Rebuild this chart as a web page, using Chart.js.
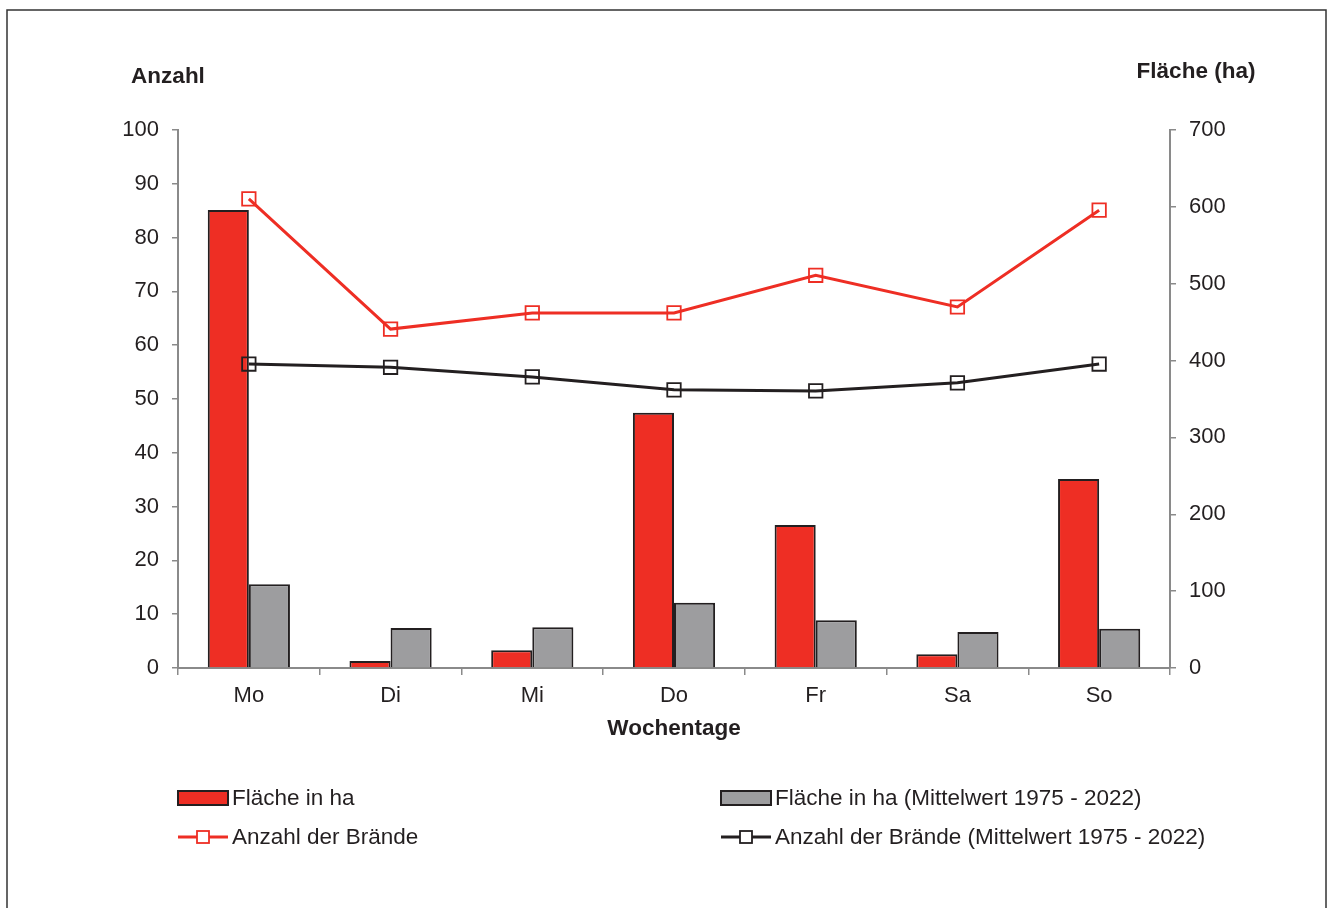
<!DOCTYPE html>
<html>
<head>
<meta charset="utf-8">
<script src="https://cdn.jsdelivr.net/npm/chart.js@4/dist/chart.umd.min.js"></script>
<style>
html,body{margin:0;padding:0;background:#fff;}
canvas{display:block;}
</style>
</head>
<body>
<canvas id="c" width="1328" height="908"></canvas>
<script>
const days = ['Mo', 'Di', 'Mi', 'Do', 'Fr', 'Sa', 'So'];
const areaHa = [596, 9, 23, 332, 186, 18, 246];
const areaMeanHa = [109, 52, 53, 85, 62, 47, 51];
const fireCount = [87.2, 63, 66, 66, 73, 67.1, 85.1];
const fireCountMean = [56.5, 55.9, 54.1, 51.7, 51.5, 53.0, 56.5];
const leftTitle = 'Anzahl';
const rightTitle = 'Fläche (ha)';
const xTitle = 'Wochentage';
const labelArea = 'Fläche in ha';
const labelAreaMean = 'Fläche in ha (Mittelwert 1975 - 2022)';
const labelCount = 'Anzahl der Brände';
const labelCountMean = 'Anzahl der Brände (Mittelwert 1975 - 2022)';

const RED = '#ee2e24';
const GRAY = '#9d9d9f';
const DARK = '#231f20';
const AXIS = '#8a8a8a';
const FONT = "'Liberation Sans', Arial, sans-serif";

const decor = {
  id: 'decor',
  beforeDraw(chart) {
    const ctx = chart.ctx;
    ctx.save();
    ctx.fillStyle = '#fff';
    ctx.fillRect(0, 0, chart.width, chart.height);
    ctx.strokeStyle = '#333';
    ctx.lineWidth = 1.5;
    ctx.strokeRect(7, 10, 1319, 1000);
    ctx.restore();
  },
  afterDraw(chart) {
    const ctx = chart.ctx;
    ctx.save();
    ctx.fillStyle = DARK;
    ctx.font = 'bold 22.5px ' + FONT;
    ctx.textBaseline = 'middle';
    ctx.textAlign = 'center';
    ctx.fillText(leftTitle, 168, 77);
    ctx.fillText(rightTitle, 1196, 72);
    ctx.fillText(xTitle, 674, 729);

    // legend
    const ds = chart.data.datasets;
    const cols = [178, 721];
    const rows = [798, 837];
    const items = [ds[2], ds[3], ds[0], ds[1]];
    ctx.font = '22.5px ' + FONT;
    ctx.textAlign = 'left';
    items.forEach((d, i) => {
      const x = cols[i % 2];
      const y = rows[Math.floor(i / 2)];
      if (d.type === 'line') {
        ctx.strokeStyle = d.borderColor;
        ctx.lineWidth = 3;
        ctx.beginPath();
        ctx.moveTo(x, y);
        ctx.lineTo(x + 50, y);
        ctx.stroke();
        ctx.fillStyle = '#fff';
        ctx.fillRect(x + 19, y - 6, 12, 12);
        ctx.lineWidth = 1.8;
        ctx.strokeRect(x + 19, y - 6, 12, 12);
      } else {
        ctx.fillStyle = d.backgroundColor;
        ctx.fillRect(x, y - 7, 50, 14);
        ctx.strokeStyle = DARK;
        ctx.lineWidth = 2;
        ctx.strokeRect(x, y - 7, 50, 14);
      }
      ctx.fillStyle = DARK;
      ctx.fillText(d.label, x + 54, y + 1);
    });
    ctx.restore();
  }
};

new Chart(document.getElementById('c'), {
  type: 'bar',
  data: {
    labels: days,
    datasets: [
      {
        type: 'line', label: labelCount, data: fireCount, yAxisID: 'y',
        borderColor: RED, borderWidth: 3, backgroundColor: 'transparent',
        pointStyle: 'rect', pointRadius: 9.5, pointBorderWidth: 1.8,
        pointBorderColor: RED, pointBackgroundColor: 'transparent', order: 0, tension: 0
      },
      {
        type: 'line', label: labelCountMean, data: fireCountMean, yAxisID: 'y',
        borderColor: DARK, borderWidth: 3, backgroundColor: 'transparent',
        pointStyle: 'rect', pointRadius: 9.5, pointBorderWidth: 1.8,
        pointBorderColor: DARK, pointBackgroundColor: 'transparent', order: 1, tension: 0
      },
      {
        type: 'bar', label: labelArea, data: areaHa, yAxisID: 'y1',
        backgroundColor: RED, borderColor: DARK, borderWidth: 2,
        barPercentage: 1, categoryPercentage: 0.58, order: 2
      },
      {
        type: 'bar', label: labelAreaMean, data: areaMeanHa, yAxisID: 'y1',
        backgroundColor: GRAY, borderColor: DARK, borderWidth: 2,
        barPercentage: 1, categoryPercentage: 0.58, order: 3
      }
    ]
  },
  options: {
    responsive: false,
    animation: false,
    devicePixelRatio: 1,
    layout: { padding: { top: 130, left: 0, right: 0, bottom: 0 } },
    plugins: { legend: { display: false }, tooltip: { enabled: false }, title: { display: false } },
    scales: {
      x: {
        grid: { display: true, drawOnChartArea: false, drawTicks: true, tickLength: 7, color: AXIS, lineWidth: 1.5, offset: true },
        border: { display: true, color: AXIS, width: 2 },
        ticks: { color: DARK, font: { family: FONT, size: 22 }, padding: 8, maxRotation: 0 },
        afterFit(s) { s.height = 240; }
      },
      y: {
        position: 'left', min: 0, max: 100,
        grid: { display: true, drawOnChartArea: false, drawTicks: true, tickLength: 6, color: AXIS, lineWidth: 1.5 },
        border: { display: true, color: AXIS, width: 2 },
        ticks: { stepSize: 10, color: DARK, font: { family: FONT, size: 22 }, padding: 13 },
        afterFit(s) { s.width = 178; }
      },
      y1: {
        position: 'right', min: 0, max: 700,
        grid: { display: true, drawOnChartArea: false, drawTicks: true, tickLength: 6, color: AXIS, lineWidth: 1.5 },
        border: { display: true, color: AXIS, width: 2 },
        ticks: { stepSize: 100, color: DARK, font: { family: FONT, size: 22 }, padding: 13 },
        afterFit(s) { s.width = 158; }
      }
    }
  },
  plugins: [decor]
});
</script>
</body>
</html>
